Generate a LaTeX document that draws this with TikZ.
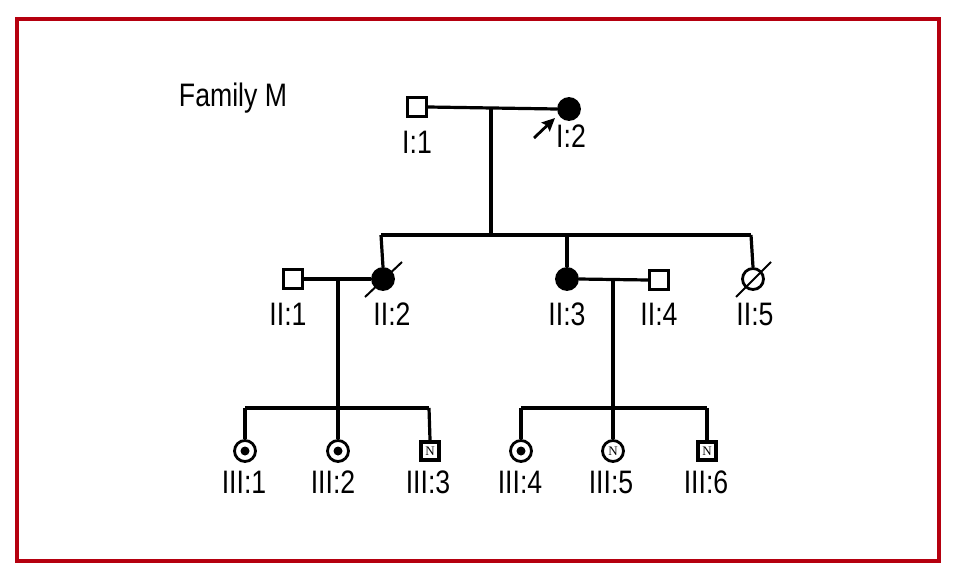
\documentclass[tikz,border=0pt]{standalone}
\usepackage{fontspec}
\setmainfont{Liberation Sans}[FakeStretch=0.82]
\newfontfamily\serifN{Liberation Serif}
\usetikzlibrary{arrows.meta}
\definecolor{frame}{HTML}{B5000F}
\begin{document}
\begin{tikzpicture}[x=1pt,y=-1pt,
  line width=3.2pt,
  male/.style={draw,rectangle,minimum size=19pt,inner sep=0pt,line width=3.2pt,fill=white},
  maleN/.style={male,line width=4.4pt,minimum size=18pt,font=\serifN\fontsize{13}{13}\selectfont},
  female/.style={draw,circle,minimum size=21pt,inner sep=0pt,line width=2.8pt,fill=white},
  affected/.style={female,fill=black},
  femaleN/.style={female,font=\serifN\fontsize{13}{13}\selectfont},
  dotc/.style={circle,fill=black,minimum size=9pt,inner sep=0pt},
  lbl/.style={anchor=base,inner sep=0pt,font=\fontsize{32.5}{32.5}\selectfont},
  link/.style={line width=3.2pt},
  slash/.style={line width=2pt}]
\useasboundingbox (0,0) rectangle (958,584);
\draw[frame,line width=3.5pt] (17,19) rectangle (939,561);
\node[lbl] (title) at (233,106) {Family M};
% generation I
\node[male] (I1) at (417,107) {};
\node[affected] (I2) at (569,109) {};
\node[lbl] (lI1) at (417,153) {I:1};
\node[lbl] (lI2) at (571,147) {I:2};
\coordinate (pa) at (534,138);
\coordinate (pb) at (555,118);
\draw[line width=2.8pt,-{Stealth[length=13pt,width=12pt,inset=2pt]}] (pa) -- (pb);
\coordinate (m1) at (491,107);
\coordinate (s1) at (491,235);
\coordinate (s1l) at (381,235);
\coordinate (s1r) at (751,235);
\coordinate (s1m) at (567,235);
\draw[link] (I1.east) -- (I2.west);
\draw[link] (m1) -- (s1);
\draw[link] (s1l) -- (s1r);
% generation II
\node[male] (II1) at (293,279) {};
\node[affected] (II2) at (383,279) {};
\node[affected] (II3) at (567,279) {};
\node[male] (II4) at (659,280) {};
\node[female] (II5) at (753,279) {};
\draw[link] (s1l) -- (II2.north);
\draw[link] (s1m) -- (II3.north);
\draw[link] (s1r) -- (II5.north);
\coordinate (d2a) at (365,297);
\coordinate (d2b) at (402,262);
\draw[slash] (d2a) -- (d2b);
\coordinate (d5a) at (736,297);
\coordinate (d5b) at (771,262);
\draw[slash] (d5a) -- (d5b);
\node[lbl] (lII1) at (288,325) {II:1};
\node[lbl] (lII2) at (392,325) {II:2};
\node[lbl] (lII3) at (567,325) {II:3};
\node[lbl] (lII4) at (659,325) {II:4};
\node[lbl] (lII5) at (755,325) {II:5};
\draw[link] (II1.east) -- (II2.west);
\draw[link] (II3.east) -- (II4.west);
\coordinate (m2) at (338,279);
\coordinate (s2) at (338,408);
\coordinate (s2l) at (245,408);
\coordinate (s2r) at (429,408);
\coordinate (m3) at (613,279);
\coordinate (s3) at (613,408);
\coordinate (s3l) at (521,408);
\coordinate (s3r) at (707,408);
\draw[link] (m2) -- (s2);
\draw[link] (s2l) -- (s2r);
\draw[link] (m3) -- (s3);
\draw[link] (s3l) -- (s3r);
% generation III
\node[female] (III1) at (245,451) {};
\node[female] (III2) at (338,451) {};
\node[maleN] (III3) at (430,451) {N};
\node[female] (III4) at (521,451) {};
\node[femaleN] (III5) at (613,451) {N};
\node[maleN,line width=3.6pt] (III6) at (707,451) {N};
\node[dotc] (dot1) at (III1) {};
\node[dotc] (dot2) at (III2) {};
\node[dotc] (dot4) at (III4) {};
\draw[link] (s2l) -- (III1.north);
\draw[link] (s2) -- (III2.north);
\draw[link] (s2r) -- (III3.north);
\draw[link] (s3l) -- (III4.north);
\draw[link] (s3) -- (III5.north);
\draw[link] (s3r) -- (III6.north);
\node[lbl] (lIII1) at (244,493) {III:1};
\node[lbl] (lIII2) at (333,493) {III:2};
\node[lbl] (lIII3) at (428,493) {III:3};
\node[lbl] (lIII4) at (520,493) {III:4};
\node[lbl] (lIII5) at (611,493) {III:5};
\node[lbl] (lIII6) at (706,493) {III:6};
\end{tikzpicture}
\end{document}
